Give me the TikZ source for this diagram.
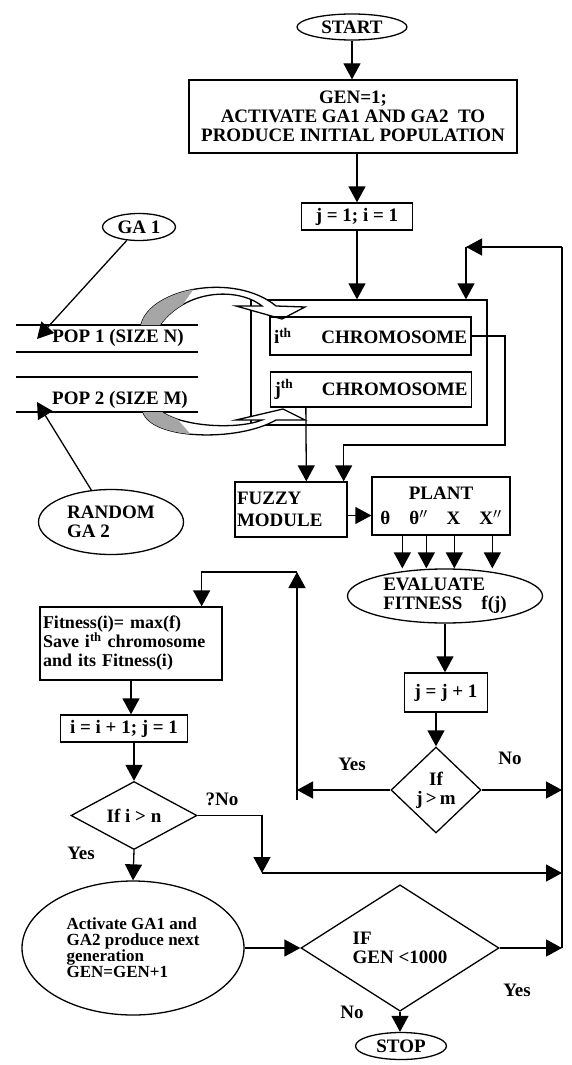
\documentclass[tikz,border=0pt]{standalone}
\usepackage{fontspec}
\setmainfont{Liberation Serif}
\usetikzlibrary{arrows.meta, shapes.geometric}
\newcommand{\flowfont}{\fontsize{19}{19}\selectfont\bfseries}

\begin{document}
\begin{tikzpicture}[x=1pt, y=-1pt, >={Triangle[width=17pt,length=16pt]}, line width=1.3pt,
  box/.style={draw, inner sep=2pt, align=center, font=\flowfont},
  term/.style={ellipse, draw, inner sep=0pt, align=center, font=\flowfont},
  test/.style={diamond, draw, inner sep=0pt, align=center, font=\flowfont},
  lbl/.style={font=\flowfont, inner sep=0pt}]
\useasboundingbox (0,0) rectangle (572,1065);

%% start and initialisation
\node[term, minimum width=110pt, minimum height=26pt] (start) at (352,27) {START};
\node[box, minimum width=328pt, minimum height=73pt] (init) at (353,116.5)
  {GEN=1;\\ACTIVATE GA1 AND GA2\ \ TO\\PRODUCE INITIAL POPULATION};
\node[box, minimum width=111pt, minimum height=27pt] (ij) at (357,216.5) {j = 1; i = 1};
\draw[->] (start) -- (start |- init.north);
\draw[->] (init.south -| ij.north) -- (ij.north);

%% populations
\node[term, minimum width=73pt, minimum height=27pt] (ga1) at (139,227) {GA 1};
\node[term, minimum width=145pt, minimum height=65pt, align=left] (rand) at (111,522) {RANDOM\\GA 2};
\draw (16,325) -- (198,325);
\draw (16,352) -- (198,352);
\draw (16,377) -- (198,377);
\draw (16,412) -- (198,412);
\node[lbl] (pop1) at (118,338) {POP 1 (SIZE N)};
\node[lbl] (pop2) at (120,400) {POP 2 (SIZE M)};
\coordinate (pop1in) at (37,339);
\coordinate (pop2in) at (37,402);
\draw[->] (ga1) -- (pop1in);
\draw[->] (rand) -- (pop2in);

%% chromosome block
\node[draw, minimum width=236pt, minimum height=125pt] (outer) at (369,362.5) {};
\draw[->] (ij.south) -- (ij.south |- outer.north);

% exchange arrows
\draw[fill=white] (141,325) .. controls (150,288) and (235,272) .. (276,306)
  -- (305,307) -- (282,319) -- (236,306) -- (262,306)
  .. controls (238,287) and (186,289) .. (160,325) -- cycle;
\begin{scope}
  \clip (141,325) .. controls (150,288) and (235,272) .. (276,306) -- (262,306)
    .. controls (238,287) and (186,289) .. (160,325) -- cycle;
  \fill[gray!70] (130,330) -- (130,280) -- (200,280) -- (165,330) -- cycle;
\end{scope}
\draw[fill=white] (143,412) .. controls (152,440) and (238,442) .. (276,420)
  -- (305,420) -- (283,409) -- (236,420) -- (262,420)
  .. controls (240,429) and (186,428) .. (162,412) -- cycle;
\begin{scope}
  \clip (143,412) .. controls (152,440) and (238,442) .. (276,420) -- (262,420)
    .. controls (240,429) and (186,428) .. (162,412) -- cycle;
  \fill[gray!70] (130,405) -- (130,445) -- (200,445) -- (165,405) -- cycle;
\end{scope}

\node[box, minimum width=201pt, minimum height=38pt, text width=193pt, align=left] (ichrom) at (370.5,336)
  {i\textsuperscript{th}\hfill CHROMOSOME\hspace*{18pt}};
\node[box, minimum width=201pt, minimum height=35pt, text width=193pt, align=left] (jchrom) at (371,389.5)
  {j\textsuperscript{th}\hfill CHROMOSOME\hspace*{20pt}};

%% fuzzy controller and plant
\node[box, minimum width=112pt, minimum height=55pt, inner sep=1pt, text width=108pt, align=left] (fuzzy) at (291,509.5)
  {FUZZY\\[3pt]MODULE};
\node[box, minimum width=138pt, minimum height=58pt] (plant) at (441,506)
  {PLANT\\[6pt]θ\quad θ$''$\quad X\quad X$''$};
\coordinate (ibend) at (505,445);
\draw[->] (ichrom.east) -| (ibend) -| ([xshift=-4pt]fuzzy.north east);
\draw[->] ([xshift=36pt]jchrom.south west) -- ([xshift=72pt]fuzzy.north west);
\draw[->] ([yshift=-6pt]fuzzy.east) -- ([yshift=-6pt]fuzzy.east -| plant.west);

\node[term, minimum width=195pt, minimum height=54pt, align=left] (eval) at (445,596)
  {EVALUATE\\FITNESS\quad f(j)};
\coordinate (plantA) at ([xshift=31pt]plant.south west);
\coordinate (plantB) at ([xshift=55pt]plant.south west);
\coordinate (plantC) at ([xshift=83pt]plant.south west);
\coordinate (plantD) at ([xshift=121pt]plant.south west);
\draw[->] (plantA) -- (plantA |- eval.north);
\draw[->] (plantB) -- (plantB |- eval.north);
\draw[->] (plantC) -- (plantC |- eval.north);
\draw[->] (plantD) -- (plantD |- eval.north);

%% inner loop over j
\node[box, minimum width=83pt, minimum height=39pt] (jinc) at (446,692.5) {j = j + 1};
\node[test, minimum width=90pt, minimum height=86pt] (jtest) at (436,790) {If\\j\,>\,m};
\draw[->] (eval.south) -- (eval.south |- jinc.north);
\draw[->] (jinc.south -| jtest.north) -- (jtest.north);
\node[lbl] (jyes) at (352,764) {Yes};
\node[lbl] (jno) at (510,758) {No};
\coordinate (yesL) at (297,790);
\coordinate (yesB) at (297,800);
\coordinate (yesT) at (297,572);
\draw[->] (jtest.west) -- (yesL);
\draw[->] (yesB) -- (yesT);

%% outer loop over i
\node[box, minimum width=182pt, minimum height=73pt, text width=176pt, align=left,
      font=\fontsize{18}{19}\selectfont\bfseries] (fitness) at (131,643.5)
  {Fitness(i)= max(f)\\Save i\textsuperscript{th} chromosome\\and its Fitness(i)};
\draw[->] (yesT) -| ([xshift=-21pt]fitness.north east);
\node[box, minimum width=127pt, minimum height=27pt] (iinc) at (124,728.5) {i = i + 1; j = 1};
\node[test, minimum width=126pt, minimum height=55pt] (itest) at (134,815.5) {If i > n};
\draw[->] (fitness.south) -- (fitness.south |- iinc.north);
\draw[->] (iinc.south -| itest.north) -- (itest.north);
\node[lbl] (ino) at (222,799) {?No};
\node[lbl] (iyes) at (81,853) {Yes};
\coordinate (nobend) at (262,873);
\draw[->] (itest.east) -| (nobend);

%% next generation
\node[term, minimum width=222pt, minimum height=134pt, align=left, font=\fontsize{17}{16}\selectfont\bfseries] (act) at (133,948)
  {Activate GA1 and\\GA2 produce next\\generation\\GEN=GEN+1};
\node[test, minimum width=198pt, minimum height=95pt, align=left] (gentest) at (400,948) {IF\\GEN <1000};
\node[term, minimum width=91pt, minimum height=27pt] (stop) at (401,1046) {STOP};
\draw[->] (itest.south) -- (act.north);
\draw[->] (act.east) -- (gentest.west);
\draw[->] (gentest.south) -- (gentest.south |- stop.north);
\node[lbl] (gyes) at (517,990) {Yes};
\node[lbl] (gno) at (352,1012) {No};

%% return line
\coordinate (loopB) at (562,948);
\coordinate (loopT) at (562,247);
\coordinate (loopC) at (466,247);
\draw (loopB) -- (loopT);
\draw[->] (gentest.east) -- (loopB);
\draw[->] (jtest.east) -- (jtest.east -| loopB);
\draw[->] (nobend) -- (nobend -| loopB);
\draw[->] (loopT) -- (loopC);
\draw[->] (loopC) -- (loopC |- outer.north);
\end{tikzpicture}
\end{document}
